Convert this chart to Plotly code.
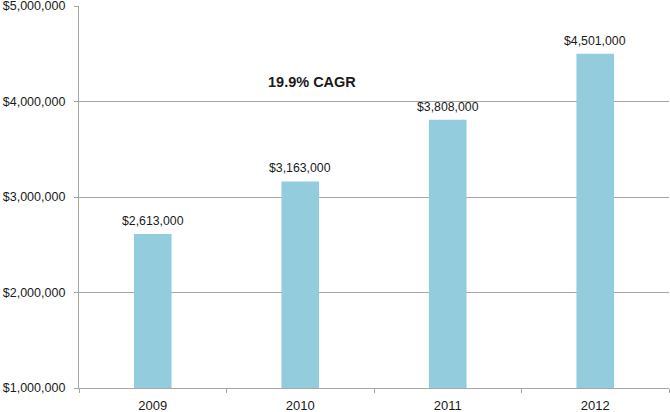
import plotly.graph_objects as go

years = ["2009", "2010", "2011", "2012"]
revenue = [2613000, 3163000, 3808000, 4501000]
labels = ["$2,613,000", "$3,163,000", "$3,808,000", "$4,501,000"]
y_ticks = [1000000, 2000000, 3000000, 4000000, 5000000]
y_tick_text = ["$1,000,000", "$2,000,000", "$3,000,000", "$4,000,000", "$5,000,000"]
cagr_text = "19.9% CAGR"

FONT = "Liberation Sans, Arial, sans-serif"
GRID = "#A6A6A6"
TXT = "#1a1a1a"

fig = go.Figure()
fig.add_trace(go.Bar(
    x=years, y=revenue, base=0,
    marker=dict(color="#93CDDD", line=dict(width=0)),
    hoverinfo="skip",
))

# value labels above bars (category index positions on the category axis)
for idx, (val, lab) in enumerate(zip(revenue, labels)):
    fig.add_annotation(
        x=idx, y=val, xref="x", yref="y",
        text=lab, showarrow=False, yanchor="bottom", yshift=4,
        font=dict(family=FONT, size=12.3, color=TXT),
    )

fig.add_annotation(
    x=1.08, y=4200000, xref="x", yref="y",
    text="<b>" + cagr_text + "</b>", showarrow=False,
    font=dict(family=FONT, size=14.5, color=TXT),
)

fig.update_layout(
    width=670, height=412,
    margin=dict(l=79, r=1, t=6, b=24),
    paper_bgcolor="white", plot_bgcolor="white",
    bargap=0.745,
    showlegend=False,
    font=dict(family=FONT, size=12, color=TXT),
)
fig.update_xaxes(
    type="category", automargin=False,
    tickson="boundaries", ticks="outside", ticklen=4, tickcolor=GRID, tickwidth=1.3,
    showline=True, linecolor=GRID, linewidth=1.3,
    showgrid=False,
    tickfont=dict(family=FONT, size=13, color=TXT),
    ticklabelstandoff=5, ticklabeloverflow="allow",
)
fig.update_yaxes(
    range=[1000000, 5000000], automargin=False,
    tickvals=y_ticks, ticktext=y_tick_text,
    ticks="outside", ticklen=4, tickcolor=GRID, tickwidth=1.3,
    showline=True, linecolor=GRID, linewidth=1.3,
    showgrid=True, gridcolor=GRID, gridwidth=1.3,
    zeroline=False,
    tickfont=dict(family=FONT, size=12.5, color=TXT),
    ticklabelstandoff=6, ticklabeloverflow="allow",
)

fig.write_html("out.html", config={"displayModeBar": False},
               post_script="document.body.style.margin='0';")
